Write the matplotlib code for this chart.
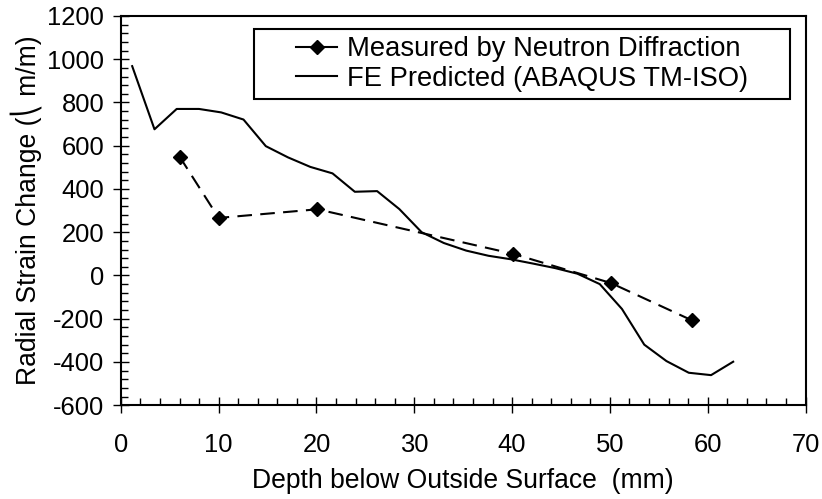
import numpy as np
import matplotlib
matplotlib.use('Agg')
import matplotlib.pyplot as plt
from matplotlib.lines import Line2D
from matplotlib.patches import Rectangle
from matplotlib.ticker import MultipleLocator

plt.rcParams['font.family'] = ['Liberation Sans', 'DejaVu Sans']
plt.rcParams['axes.unicode_minus'] = False

# neutron diffraction measurements
meas_depth = [6.0, 10.0, 20.1, 40.1, 50.1, 58.4]
meas_strain = [550, 266, 306, 100, -35, -208]

# FE prediction (ABAQUS TM-ISO)
fe_depth = [1.16, 3.44, 5.71, 7.99, 10.26, 12.54, 14.82, 17.09, 19.37, 21.64,
            23.92, 26.2, 28.47, 30.75, 33.02, 35.3, 37.58, 39.85, 42.13, 44.4,
            46.68, 48.96, 51.23, 53.51, 55.78, 58.06, 60.34, 62.6]
fe_strain = [968, 676, 770, 770, 754, 721, 598, 546, 502, 472,
             387, 390, 307, 200, 150, 115, 91, 75, 55, 34,
             8, -40, -155, -320, -396, -450, -461, -399]

fig = plt.figure(figsize=(8.22, 4.99), dpi=100)
ax = fig.add_axes([0.147, 0.188, 0.833, 0.780])

ax.plot(fe_depth, fe_strain, color='black', lw=1.5)
ax.plot(meas_depth, meas_strain, color='black', lw=1.5, dashes=(7, 4),
        marker='D', ms=7.5, mfc='black', mec='black')

ax.set_xlim(0, 70)
ax.set_ylim(-600, 1200)
ax.xaxis.set_major_locator(MultipleLocator(10))
ax.xaxis.set_minor_locator(MultipleLocator(2))
ax.yaxis.set_major_locator(MultipleLocator(200))
ax.yaxis.set_minor_locator(MultipleLocator(40))
ax.tick_params(which='major', direction='inout', length=12, width=1, labelsize=18.4)
ax.tick_params(which='minor', direction='in', length=5, width=1)
ax.tick_params(axis='x', which='major', pad=14)
ax.tick_params(axis='y', which='major', pad=6)
for sp in ax.spines.values():
    sp.set_linewidth(1.5)

ax.set_xlabel('Depth below Outside Surface  (mm)', fontsize=19.1, labelpad=8)
ax.set_ylabel('Radial Strain Change (\u239d m/m)', fontsize=19.1, labelpad=4)

# legend box drawn separately so it can be wider than its entries
ax.add_patch(Rectangle((0.1944, 0.786), 0.7822, 0.180, transform=ax.transAxes,
                       fill=True, facecolor='white', edgecolor='black', lw=1.5, zorder=4))
handles = [Line2D([], [], color='black', lw=1.5, marker='D', ms=7),
           Line2D([], [], color='black', lw=1.5)]
leg = ax.legend(handles, ['Measured by Neutron Diffraction', 'FE Predicted (ABAQUS TM-ISO)'],
                loc='center', bbox_to_anchor=(0.586, 0.876), fontsize=19.7,
                frameon=False, handlelength=1.5, handletextpad=0.34,
                borderpad=0, labelspacing=0.13, borderaxespad=0)
leg.set_zorder(5)

fig.savefig('out.png', dpi=100)
